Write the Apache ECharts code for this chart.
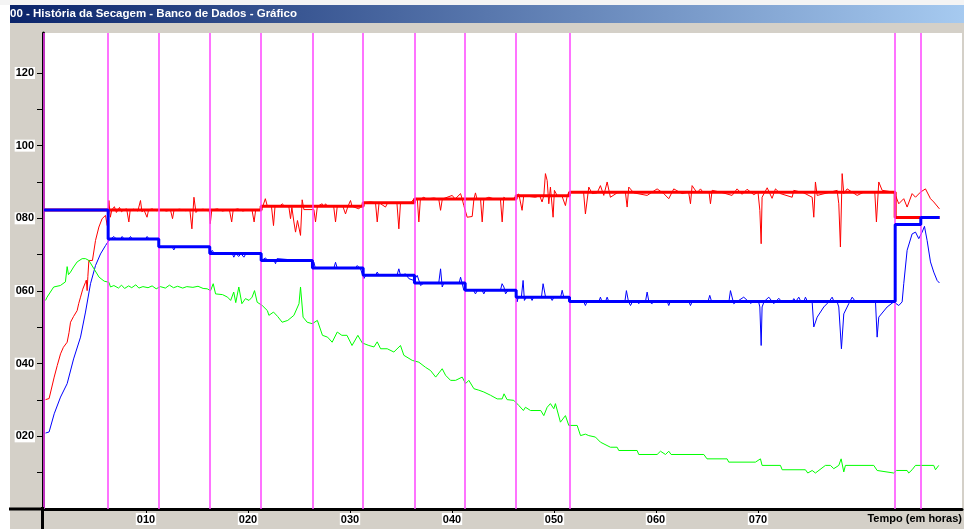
<!DOCTYPE html>
<html>
<head>
<meta charset="utf-8">
<script src="https://cdn.jsdelivr.net/npm/echarts@6/dist/echarts.min.js"></script>
<style>
html,body{margin:0;padding:0;background:#d4d0c8;}
#c{width:964px;height:529px;}
</style>
</head>
<body>
<div id="c"></div>
<script>
// ---- data (hours, value) ----
const stageMarks = [0, 6.29, 11.25, 16.25, 21.29, 26.32, 31.29, 36.32, 41.29, 46.29, 51.52, 83.45, 85.96];

const blueStepTimes  = [0, 6.29, 11.25, 16.25, 21.29, 26.32, 31.29, 36.32, 41.29, 46.29, 51.52, 83.45, 85.96, 87.8];
const blueStepValues = [82.3, 74.3, 72.2, 70.3, 68.4, 66.3, 64.3, 62.2, 60.2, 58.3, 57.1, 78.3, 80.2, 80.2];

const redStepTimes  = [0, 21.29, 31.29, 36.32, 46.29, 51.52, 83.45, 87.8];
const redStepValues = [82.3, 83.3, 84.3, 85.3, 86.2, 87.2, 80.2, 80.2];

const redReal = [[0.15,30.1],[0.5,30.4],[1.0,36.3],[1.3,39.5],[1.62,42.7],[1.9,44.5],[2.27,45.9],[2.45,48.5],[2.6,51.4],[2.9,53],[3.25,54.6],[3.4,56.5],[3.58,58.3],[3.8,60.5],[4.07,62.4],[4.15,63],[4.23,60.1],[4.3,64],[4.4,68.4],[4.75,68.4],[5.05,73.9],[5.38,77.6],[5.7,79.9],[6.03,80.8],[6.2,78],[6.36,84.9],[6.5,80.3],[6.65,82.3],
[6.9,83.2],[7.1,81.6],[7.4,83.0],[7.6,81.8],[7.8,82.3],[8.1,82.6],[8.32,79],[8.45,82.3],[8.8,82.5],[9.2,82.0],[9.46,84.9],[9.6,81.8],[9.8,82.3],[10.1,80.3],[10.25,82.3],[10.6,82.6],[11.0,82.1],[11.5,82.4],[12.0,82.0],[12.4,82.3],[12.6,79.9],[12.75,82.3],[13.3,82.5],[13.9,82.1],[14.3,82.3],[14.5,77.1],[14.7,85.8],[14.9,81.6],[15.1,82.3],[15.6,82.5],[16.0,82.1],[16.2,82.3],[16.3,78.5],[16.45,82.3],[17.0,82.6],[17.5,82.0],[18.0,82.3],[18.2,82.0],[18.4,79],[18.55,82.3],[19.0,82.6],[19.5,82.0],[20.0,82.4],[20.4,82.2],[20.6,79],[20.75,82.3],[21.2,82.3],[21.45,83.3],[21.7,85.4],[21.9,83.3],[22.3,83.3],[22.5,78.0],[22.65,83.3],[23.1,83.3],[23.35,84.0],[23.6,83.3],[24.0,83.3],[24.17,79.9],[24.3,83.0],[24.5,79],[24.66,76.2],[24.85,79.4],[25.0,79.4],[25.15,75.3],[25.31,85.1],[25.48,82.4],[26.46,82.4],[26.62,79],[26.8,83.3],[27.27,84],[27.45,83.3],[27.6,84],[27.8,83.3],[28.4,83.3],[28.58,79],[28.75,83.3],[29.3,83.3],[29.56,81.2],[29.8,83.3],[30.05,84.9],[30.2,83.3],[30.87,82.6],[31.1,83.3],[31.3,84.3],[32.0,84.5],[32.5,84.3],[32.67,79],[32.85,84.3],[33.48,83.1],[33.7,84.3],[34.6,84.3],[34.79,77.1],[34.95,84.3],[35.5,84.3],[35.93,84.2],[36.1,84.3],[36.26,85.3],[36.6,85.3],[36.75,79],[36.9,85.3],[37.24,85.8],[37.5,85.3],[38.22,85.6],[38.7,85.3],[38.88,82.2],[39.05,85.3],[40.02,86.3],[40.3,85.3],[40.84,86.8],[41.0,85.3],[41.16,83.5],[41.49,80.3],[41.98,80.5],[42.15,85.3],[42.3,87],[42.45,85.3],[42.8,85.3],[42.96,79],[43.12,85.3],[43.62,85.8],[44.27,85.2],[44.75,85.3],[44.92,79],[45.08,85.8],[45.3,85.3],[46.06,85.5],[46.3,86.2],[46.55,86.7],[46.7,86.2],[46.87,82.2],[47.03,86.2],[47.2,86.3],[48.18,85.8],[48.6,86.2],[48.83,84.5],[49.0,86.2],[49.16,92.3],[49.33,90.4],[49.49,84],[49.65,88.6],[49.91,80.3],[50.04,87.7],[50.3,86.3],[50.8,86.0],[51.12,83.5],[51.3,86.2],[51.45,87.2],[52.9,87.2],[53.08,81.2],[53.41,88.6],[53.74,86.8],[54.23,87.0],[54.55,89],[54.88,86.3],[55.21,90],[55.53,85.8],[56.19,87.0],[57.0,87.2],[57.17,83.1],[57.33,88.6],[57.82,87.0],[59.13,86.3],[60.11,88.1],[60.76,86.8],[61.25,85.4],[61.74,88.1],[62.56,86.8],[63.2,87.2],[63.38,84],[63.54,89],[64.03,87.0],[64.36,88.1],[64.6,87.2],[65.2,87.2],[65.34,84],[65.5,87.7],[66.32,87.2],[67.46,86.3],[67.95,88.1],[68.44,86.6],[68.93,88.0],[69.59,86.5],[70.0,87.2],[70.18,82.2],[70.31,73],[70.4,85.8],[70.9,88.4],[71.38,85.5],[71.71,88.1],[72.2,86.8],[73.35,85.8],[73.51,87.7],[74.49,87.0],[75.31,85.8],[75.47,80.3],[75.63,90],[75.8,86.3],[77.1,87.2],[77.76,87.7],[77.92,84],[78.08,72.1],[78.25,92.3],[78.41,86.8],[78.74,88.1],[79.72,86.3],[80.37,87.2],[81.45,87.2],[81.61,79],[81.84,90],[82.17,87.7],[83.31,87.2],[83.48,86.3],[83.8,84],[84.29,85.4],[84.62,83.1],[85.11,86.8],[85.44,85.8],[85.93,87.2],[86.42,88.1],[86.91,85.4],[87.23,84.5],[87.79,82.6]];

const blueReal = [[0.15,20.9],[0.5,21.2],[1.0,26.2],[1.62,30.8],[2.27,34.5],[2.9,41.3],[3.58,47.3],[4.07,54.2],[4.56,62],[5.05,67],[5.54,70.2],[6.03,72.5],[6.36,73.9],[6.85,75],[7.1,74.3],[7.5,74.3],[7.66,75],[7.85,74.3],[8.3,74.3],[8.48,75],[8.65,74.3],[9.95,74.3],[10.11,75],[10.3,74.3],[11.26,74.3],[11.3,72.2],[12.55,72.2],[12.73,71.3],[12.9,72.2],[14.5,72.2],[14.69,72.7],[14.85,72.2],[16.26,72.2],[16.3,70.3],[16.49,71.2],[16.7,70.3],[18.45,70.3],[18.61,69.3],[18.8,70.3],[18.95,70.3],[19.1,69.5],[19.3,70.3],[19.45,70.3],[19.6,69.3],[19.8,70.3],[21.29,70.3],[21.33,68.4],[21.72,69.1],[21.9,68.4],[22.55,68.4],[22.7,67.5],[22.85,68.9],[23.02,68.4],[25.0,68.4],[25.15,68.9],[25.3,68.4],[26.3,68.4],[26.35,66.3],[26.46,67.9],[26.6,66.3],[28.42,66.3],[28.58,67.9],[28.75,66.3],[30.55,66.3],[30.71,67.0],[31.03,66.1],[31.36,63.4],[31.55,64.3],[32.5,64.3],[32.67,65.2],[32.85,64.3],[34.6,64.3],[34.79,66.1],[34.95,64.3],[35.12,63.8],[35.45,64.7],[35.77,63.4],[36.26,62.9],[36.59,64.3],[36.92,61.5],[37.24,62.2],[38.7,62.2],[38.88,66.1],[39.04,61.1],[39.2,62.2],[40.7,62.2],[40.84,63.8],[41.16,60.2],[42.1,60.2],[42.3,59.2],[42.5,60.2],[42.95,60.2],[43.12,59.2],[43.3,60.2],[44.75,60.2],[44.91,62],[45.09,61.1],[45.25,59.2],[45.5,60.2],[46.3,60.2],[46.38,57.0],[46.5,58.3],[46.8,58.3],[46.97,62.9],[47.1,57.4],[47.3,58.3],[47.7,58.3],[47.85,57.4],[48.0,58.3],[48.77,58.3],[48.93,62],[49.16,58.5],[49.65,58.3],[49.82,57.4],[50.0,58.3],[50.65,58.3],[50.8,60.2],[50.96,58.3],[51.5,58.3],[51.55,57.1],[52.9,57.1],[53.08,56.0],[53.25,57.1],[54.4,57.1],[54.55,58.3],[54.7,57.1],[55.05,57.1],[55.21,58.3],[55.37,57.1],[56.95,57.1],[57.1,60.1],[57.3,57.1],[57.5,56.0],[57.7,57.1],[58.15,57.1],[58.31,56.5],[58.5,57.1],[58.97,57.1],[59.13,59.7],[59.3,57.1],[59.62,56.5],[59.8,57.1],[61.1,57.1],[61.25,56.0],[61.4,57.1],[63.22,57.1],[63.38,56.0],[63.55,57.1],[64.2,57.1],[64.36,56.9],[64.5,57.1],[65.1,57.1],[65.27,58.8],[65.45,57.1],[67.15,57.1],[67.3,60.1],[67.62,56.5],[68.11,57.4],[68.6,58.3],[69.26,56.6],[69.6,57.1],[70.05,57.1],[70.18,55.6],[70.31,45],[70.4,55.6],[70.6,57.1],[71.06,58.3],[71.55,56.5],[72.04,58.0],[72.3,57.1],[73.35,57.1],[73.51,57.9],[73.7,57.1],[73.85,57.1],[74.0,58.3],[74.2,57.1],[74.5,57.1],[74.65,58.3],[74.85,57.1],[75.31,57.0],[75.47,50.1],[75.8,52.8],[76.45,55.6],[76.94,57.0],[77.27,58.3],[77.45,57.1],[77.76,57.0],[77.92,55.6],[78.18,44.1],[78.41,53.7],[78.9,56.5],[79.23,58.3],[79.55,57.1],[81.52,57.0],[81.68,47.3],[81.84,52.8],[82.66,55.6],[83.31,57.0],[83.8,56.0],[84.13,57.0],[84.29,62],[84.62,71.2],[85.11,75.7],[85.44,76.2],[85.76,74.4],[86.09,76.2],[86.32,77.8],[86.58,73.9],[86.91,68],[87.23,65.2],[87.56,62.9],[87.79,62.2]];

const greenReal = [[0.15,57.4],[0.3,58.3],[0.95,61.1],[1.6,61.5],[2.1,62.5],[2.27,66.7],[2.4,64.5],[2.6,65.2],[2.9,66.6],[3.25,68],[3.74,68.9],[4.07,68.9],[4.4,68.4],[4.9,66.1],[5.4,63.8],[5.9,62.7],[6.36,62.4],[6.52,61.1],[6.85,61.5],[7.3,60.8],[7.6,61.6],[7.9,60.7],[8.3,61.4],[8.6,60.9],[9.0,61.7],[9.3,60.8],[9.7,61.2],[10.2,60.9],[10.6,61.4],[11.0,60.6],[11.4,61.2],[11.9,60.8],[12.3,61.6],[12.7,60.9],[13.1,61.3],[13.6,60.8],[14.0,61.2],[14.6,61.0],[15.1,61.3],[15.6,60.7],[16.0,60.6],[16.33,60.1],[16.59,62],[16.82,59.2],[17.5,59.0],[18.0,58.3],[18.3,57.4],[18.6,59.7],[18.8,56.8],[19.1,61.1],[19.4,56.5],[19.75,57.9],[20.1,57.4],[20.4,58.3],[20.64,60.1],[20.9,56.9],[21.4,56.0],[21.9,54.6],[22.05,53.3],[22.5,54.2],[22.9,53.0],[23.35,51.4],[23.9,51.9],[24.5,53.3],[25.0,56.5],[25.15,61.1],[25.4,52.8],[25.8,51.4],[26.3,51.0],[26.8,51.9],[27.3,47.8],[27.8,47.3],[28.25,45.9],[28.75,48.7],[29.2,47.8],[29.7,47.8],[30.2,45.0],[30.77,47.8],[31.2,45.7],[31.85,45.0],[32.35,44.6],[32.67,46.0],[33.0,44.1],[33.65,44.1],[34.3,43.2],[34.95,45.0],[35.28,42.3],[36.1,40.9],[36.75,40.4],[36.9,40.9],[37.4,39.0],[37.9,38.1],[38.4,36.3],[39.04,38.6],[39.37,36.8],[39.86,35.4],[40.35,35.4],[41.0,36.3],[41.33,34.5],[41.65,35.4],[42.15,33.1],[42.63,32.7],[43.12,32.2],[43.78,31.3],[44.43,30.3],[44.92,30.3],[45.1,31.7],[45.4,30.1],[46.06,29.9],[46.55,28.5],[47.0,27.1],[47.2,28.0],[47.7,27.1],[48.7,27.1],[49.0,25.7],[49.33,28.0],[49.65,29],[49.98,27.6],[50.14,29],[50.63,23.9],[51.12,25.7],[51.45,23.0],[52.27,23.0],[52.6,20.2],[53.08,20.6],[53.41,20.2],[54.06,19.8],[54.55,18.4],[55.53,17.0],[56.19,17.0],[56.35,16.1],[58.15,16.1],[58.31,15.0],[60.11,15.0],[60.44,15.9],[60.93,15.0],[61.25,15.9],[61.48,15.0],[64.69,15.0],[65.0,13.8],[66.97,13.8],[67.13,12.9],[69.75,12.9],[70.24,13.8],[70.4,12.0],[72.2,12.0],[72.37,10.8],[74.65,10.8],[74.88,9.9],[75.31,10.6],[75.63,9.9],[76.61,12.0],[77.1,12.0],[77.43,11.1],[77.92,12.0],[78.15,13.8],[78.41,10.2],[78.57,12.0],[81.35,12.0],[81.68,10.6],[83.31,9.9],[83.57,10.6],[84.62,10.6],[84.78,9.9],[85.11,10.8],[85.44,12.0],[87.23,12.0],[87.4,10.8],[87.72,12.0]];

const yLabelValues = [20, 40, 60, 80, 100, 120];
const yTickValues = [10, 20, 30, 40, 50, 60, 70, 80, 90, 100, 110, 120];
const xLabelValues = [10, 20, 30, 40, 50, 60, 70];
const titleText = '00 - História da Secagem - Banco de Dados - Gráfico';
const xAxisTitle = 'Tempo (em horas)';

// ---- chart ----
const pad3 = v => String(Math.round(v)).padStart(3, '0');
const zip = (xs, ys) => xs.map((x, i) => [x, ys[i]]);
const labelFont = {fontFamily: 'Liberation Sans', fontWeight: 'bold', fontSize: 11, color: '#000'};

const chart = echarts.init(document.getElementById('c'), null, {renderer: 'canvas'});
chart.setOption({
  animation: false,
  backgroundColor: '#d4d0c8',
  grid: {left: 44, top: 33, right: 2, bottom: 20, show: false},
  xAxis: {
    type: 'value', min: 0, max: 90, interval: 10,
    splitLine: {show: false},
    axisLine: {show: true, onZero: false, lineStyle: {color: '#000', width: 3}},
    axisTick: {show: true, length: 4, customValues: xLabelValues, lineStyle: {color: '#000', width: 1}},
    axisLabel: Object.assign({
      show: true, margin: 4, customValues: xLabelValues,
      formatter: v => (v >= 10 && v <= 70 ? pad3(v) : ''),
      backgroundColor: '#fff', padding: [1, 1, 0, 1]
    }, labelFont)
  },
  yAxis: {
    type: 'value', min: 0, max: 131, interval: 10, offset: 1,
    splitLine: {show: false},
    axisLine: {show: true, onZero: false, lineStyle: {color: '#000', width: 3}},
    axisTick: {show: true, length: 6, customValues: yTickValues, lineStyle: {color: '#000', width: 1}},
    axisLabel: Object.assign({
      show: true, margin: 8, customValues: yLabelValues,
      formatter: v => (v > 0 && v % 20 === 0 ? pad3(v) : ''),
      backgroundColor: '#fff', padding: [1, 1, 0, 1]
    }, labelFont)
  },
  graphic: {elements: [
    {type: 'rect', z: -20, silent: true, shape: {x: 0, y: 0, width: 10, height: 529}, style: {fill: '#ffffff'}},
    {type: 'rect', z: -20, silent: true, shape: {x: 0, y: 0, width: 964, height: 5}, style: {fill: '#f4f4f4'}},
    {type: 'rect', z: -19, silent: true, shape: {x: 10, y: 5, width: 954, height: 18},
      style: {fill: new echarts.graphic.LinearGradient(0, 0, 1, 0, [
        {offset: 0, color: '#0a246a'}, {offset: 1, color: '#a6caf0'}])}},
    {type: 'text', z: 50, silent: true, x: 10, y: 14,
      style: {text: titleText, fill: '#fff', font: 'bold 11.5px "Liberation Sans"', textVerticalAlign: 'middle', textAlign: 'left'}},
    {type: 'rect', z: -18, silent: true, shape: {x: 44, y: 33, width: 918, height: 476}, style: {fill: '#ffffff'}},
    {type: 'line', z: 50, silent: true, shape: {x1: 9, y1: 509, x2: 44, y2: 509}, style: {stroke: '#000', lineWidth: 3}},
    {type: 'line', z: 50, silent: true, shape: {x1: 42.5, y1: 507, x2: 42.5, y2: 529}, style: {stroke: '#000', lineWidth: 3}},
    {type: 'text', z: 50, silent: true, x: 962, y: 519,
      style: {text: xAxisTitle, fill: '#000', font: 'bold 11px "Liberation Sans"', textVerticalAlign: 'middle', textAlign: 'right'}}
  ]},
  series: [
    {type: 'line', name: 'etapas', data: [], z: 1, silent: true,
      markLine: {silent: true, symbol: ['none', 'none'], label: {show: false},
        lineStyle: {color: '#ff44ff', width: 1.5, type: 'solid'},
        emphasis: {disabled: true},
        data: stageMarks.map(x => ({xAxis: x}))}},
    {type: 'line', name: 'Temp. real', data: redReal, showSymbol: false, symbol: 'none', z: 2,
      lineStyle: {color: '#ff0000', width: 1}},
    {type: 'line', name: 'Umid. real', data: blueReal, showSymbol: false, symbol: 'none', z: 2,
      lineStyle: {color: '#0000ff', width: 1}},
    {type: 'line', name: 'Grão', data: greenReal, showSymbol: false, symbol: 'none', z: 3,
      lineStyle: {color: '#00ff00', width: 1}},
    {type: 'line', name: 'Temp. set', data: zip(redStepTimes, redStepValues), step: 'end', showSymbol: false, symbol: 'none', z: 4,
      lineStyle: {color: '#ff0000', width: 3}},
    {type: 'line', name: 'Umid. set', data: zip(blueStepTimes, blueStepValues), step: 'end', showSymbol: false, symbol: 'none', z: 5,
      lineStyle: {color: '#0000ff', width: 3}}
  ]
});
</script>
</body>
</html>
